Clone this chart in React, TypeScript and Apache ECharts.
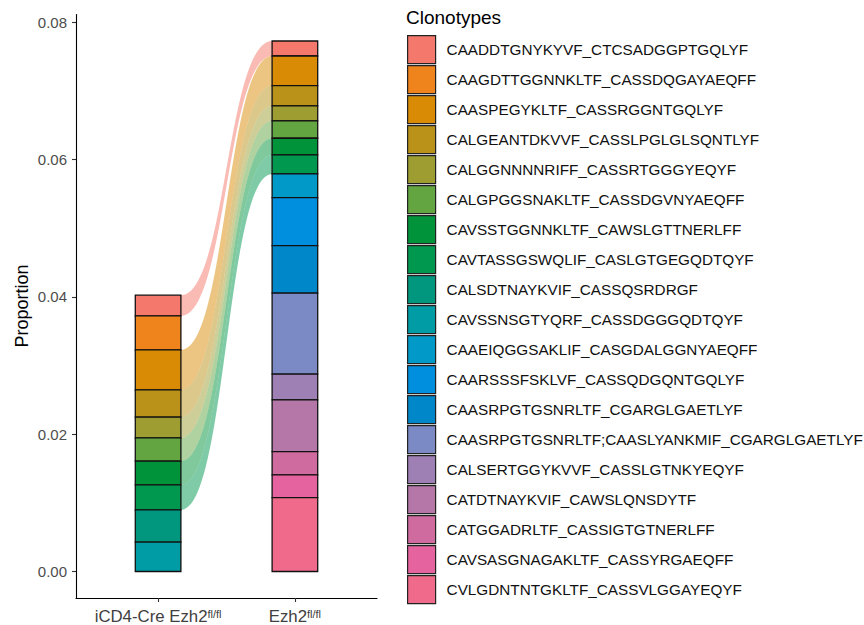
import React, { useEffect, useRef } from 'react';
import * as echarts from 'echarts';

// ---- data (legend order, top of stack first) ----
const clonotypes = [
  'CAADDTGNYKYVF_CTCSADGGPTGQLYF',
  'CAAGDTTGGNNKLTF_CASSDQGAYAEQFF',
  'CAASPEGYKLTF_CASSRGGNTGQLYF',
  'CALGEANTDKVVF_CASSLPGLGLSQNTLYF',
  'CALGGNNNNRIFF_CASSRTGGGYEQYF',
  'CALGPGGSNAKLTF_CASSDGVNYAEQFF',
  'CAVSSTGGNNKLTF_CAWSLGTTNERLFF',
  'CAVTASSGSWQLIF_CASLGTGEGQDTQYF',
  'CALSDTNAYKVIF_CASSQSRDRGF',
  'CAVSSNSGTYQRF_CASSDGGGQDTQYF',
  'CAAEIQGGSAKLIF_CASGDALGGNYAEQFF',
  'CAARSSSFSKLVF_CASSQDGQNTGQLYF',
  'CAASRPGTGSNRLTF_CGARGLGAETLYF',
  'CAASRPGTGSNRLTF;CAASLYANKMIF_CGARGLGAETLYF',
  'CALSERTGGYKVVF_CASSLGTNKYEQYF',
  'CATDTNAYKVIF_CAWSLQNSDYTF',
  'CATGGADRLTF_CASSIGTGTNERLFF',
  'CAVSASGNAGAKLTF_CASSYRGAEQFF',
  'CVLGDNTNTGKLTF_CASSVLGGAYEQYF',
];

const clonoColors = [
  '#F5786C', '#EF831C', '#D98B06', '#BB9219', '#9E9D31', '#62A541', '#00933A',
  '#00974F', '#00977E', '#009CA6', '#0099C8', '#008FDF', '#0087C9', '#7B8AC4',
  '#9E80B4', '#B577A8', '#D06BA0', '#E5649F', '#F06B8B',
];

const groups = ['iCD4-Cre Ezh2', 'Ezh2'];
const groupSup = 'fl/fl';

// proportion of each clonotype in iCD4-Cre Ezh2 fl/fl
const propCre = [
  0.00301, 0.00495, 0.00582, 0.00398, 0.00301, 0.0034, 0.00345, 0.00364, 0.0047, 0.00428,
  0, 0, 0, 0, 0, 0, 0, 0, 0,
];
// proportion of each clonotype in Ezh2 fl/fl
const propCtrl = [
  0.00218, 0, 0.00432, 0.00296, 0.00218, 0.00252, 0.00243, 0.00277, 0, 0,
  0.00345, 0.00699, 0.00693, 0.0118, 0.00374, 0.00753, 0.00339, 0.0033, 0.01077,
];

const yTicks = [0, 0.02, 0.04, 0.06, 0.08];

const FONT = "'Liberation Sans', Arial, Helvetica, sans-serif";
const BAR_W = 1 / 3;

function stackRanges(vals: number[]) {
  const ranges: number[][] = new Array(vals.length);
  let acc = 0;
  for (let i = vals.length - 1; i >= 0; i--) {
    ranges[i] = [acc, acc + vals[i]];
    acc += vals[i];
  }
  return { ranges, total: acc };
}

function hexToRgba(hex: string, a: number) {
  const n = parseInt(hex.slice(1), 16);
  return `rgba(${(n >> 16) & 255},${(n >> 8) & 255},${n & 255},${a})`;
}

function bez(p0: number, p1: number, p2: number, p3: number, t: number) {
  const u = 1 - t;
  return u * u * u * p0 + 3 * u * u * t * p1 + 3 * u * t * t * p2 + t * t * t * p3;
}

export default function App() {
  const ref = useRef<HTMLDivElement>(null);

  useEffect(() => {
    if (!ref.current) return;
    const chart = echarts.init(ref.current, null, { renderer: 'svg' });

    const stacks = [stackRanges(propCre), stackRanges(propCtrl)];
    const values = [propCre, propCtrl];
    const maxTotal = Math.max(stacks[0].total, stacks[1].total);
    const pad = maxTotal * 0.05;

    const barSeries: any[] = clonotypes.map((name, i) => {
      const data: number[][] = [];
      for (let g = 0; g < 2; g++) {
        if (values[g][i] > 0) {
          data.push([g + 1, stacks[g].ranges[i][0], stacks[g].ranges[i][1]]);
        }
      }
      return {
        type: 'custom',
        name,
        z: 3,
        silent: true,
        itemStyle: { color: clonoColors[i] },
        encode: { x: 0, y: [1, 2] },
        data,
        renderItem: (params: any, api: any) => {
          const x = api.value(0);
          const y0 = api.value(1);
          const y1 = api.value(2);
          const a = api.coord([x - BAR_W / 2, y1]);
          const b = api.coord([x + BAR_W / 2, y0]);
          return {
            type: 'rect',
            shape: { x: a[0], y: a[1], width: b[0] - a[0], height: b[1] - a[1] },
            style: { fill: clonoColors[i], stroke: '#111111', lineWidth: 1.3 },
          };
        },
      };
    });

    const flowData: number[][] = [];
    clonotypes.forEach((_, i) => {
      if (propCre[i] > 0 && propCtrl[i] > 0) {
        flowData.push([
          i,
          stacks[0].ranges[i][0],
          stacks[0].ranges[i][1],
          stacks[1].ranges[i][0],
          stacks[1].ranges[i][1],
        ]);
      }
    });

    const flowSeries = {
      type: 'custom',
      name: 'flows',
      z: 1,
      silent: true,
      data: flowData,
      encode: { x: 0, y: [1, 2, 3, 4] },
      renderItem: (params: any, api: any) => {
        const idx = api.value(0);
        const l0 = api.value(1);
        const l1 = api.value(2);
        const r0 = api.value(3);
        const r1 = api.value(4);
        const xa = 1 + BAR_W / 2;
        const xb = 2 - BAR_W / 2;
        const pTopL = api.coord([xa, l1]);
        const pTopR = api.coord([xb, r1]);
        const pBotL = api.coord([xa, l0]);
        const pBotR = api.coord([xb, r0]);
        const k = 0.5;
        const N = 48;
        const pts: number[][] = [];
        const dx = pTopR[0] - pTopL[0];
        for (let s = 0; s <= N; s++) {
          const t = s / N;
          pts.push([
            bez(pTopL[0], pTopL[0] + k * dx, pTopR[0] - k * dx, pTopR[0], t),
            bez(pTopL[1], pTopL[1], pTopR[1], pTopR[1], t),
          ]);
        }
        for (let s = N; s >= 0; s--) {
          const t = s / N;
          pts.push([
            bez(pBotL[0], pBotL[0] + k * dx, pBotR[0] - k * dx, pBotR[0], t),
            bez(pBotL[1], pBotL[1], pBotR[1], pBotR[1], t),
          ]);
        }
        return {
          type: 'polygon',
          shape: { points: pts },
          style: { fill: hexToRgba(clonoColors[idx], 0.5), stroke: 'none' },
        };
      },
    };

    const option: any = {
      animation: false,
      backgroundColor: '#ffffff',
      textStyle: { fontFamily: FONT },
      grid: {
        left: 76, top: 14.5, width: 301, height: 583.5,
        containLabel: false, outerBoundsMode: 'none',
      },
      xAxis: {
        type: 'value',
        min: 0.4,
        max: 2.6,
        splitLine: { show: false },
        axisLine: { show: true, onZero: false, lineStyle: { color: '#000', width: 1.1 } },
        axisTick: { show: true, customValues: [1, 2], length: 4, lineStyle: { color: '#333', width: 1.1 } },
        axisLabel: {
          show: true,
          customValues: [1, 2],
          margin: 10.5,
          formatter: (v: number) => `{b|${groups[Math.round(v) - 1]}}{s|${groupSup}}`,
          rich: {
            b: { fontSize: 16.8, color: '#404040', fontFamily: FONT, lineHeight: 16 },
            s: { fontSize: 11, color: '#404040', fontFamily: FONT, verticalAlign: 'top', lineHeight: 10 },
          },
        },
      },
      yAxis: {
        type: 'value',
        min: -pad,
        max: maxTotal + pad,
        splitLine: { show: false },
        axisLine: { show: true, onZero: false, lineStyle: { color: '#000', width: 1.1 } },
        axisTick: { show: true, customValues: yTicks, length: 4, lineStyle: { color: '#333', width: 1.1 } },
        axisLabel: {
          show: true,
          customValues: yTicks,
          margin: 9,
          fontSize: 15,
          color: '#4D4D4D',
          fontFamily: FONT,
          formatter: (v: number) => v.toFixed(2),
        },
      },
      legend: {
        data: clonotypes,
        orient: 'vertical',
        left: 407,
        top: 35,
        padding: 0,
        itemWidth: 28,
        itemHeight: 28,
        itemGap: 0.8,
        icon: 'rect',
        selectedMode: false,
        itemStyle: { borderColor: '#222', borderWidth: 1.2 },
        textStyle: { fontSize: 15.3, color: '#111', fontFamily: FONT, padding: [0, 0, 0, 6] },
      },
      graphic: [
        {
          type: 'text',
          x: 406,
          y: 17,
          style: { text: 'Clonotypes', fontSize: 19, fill: '#000', fontFamily: FONT, verticalAlign: 'middle', align: 'left' },
        },
        {
          type: 'text',
          x: 22,
          y: 306,
          rotation: Math.PI / 2,
          style: { text: 'Proportion', fontSize: 18, fill: '#000', fontFamily: FONT, verticalAlign: 'middle', align: 'center' },
        },
      ],
      series: [flowSeries, ...barSeries],
    };

    chart.setOption(option);
    return () => chart.dispose();
  }, []);

  return <div ref={ref} style={{ position: 'fixed', left: 0, top: 0, width: 864, height: 625 }} />;
}
